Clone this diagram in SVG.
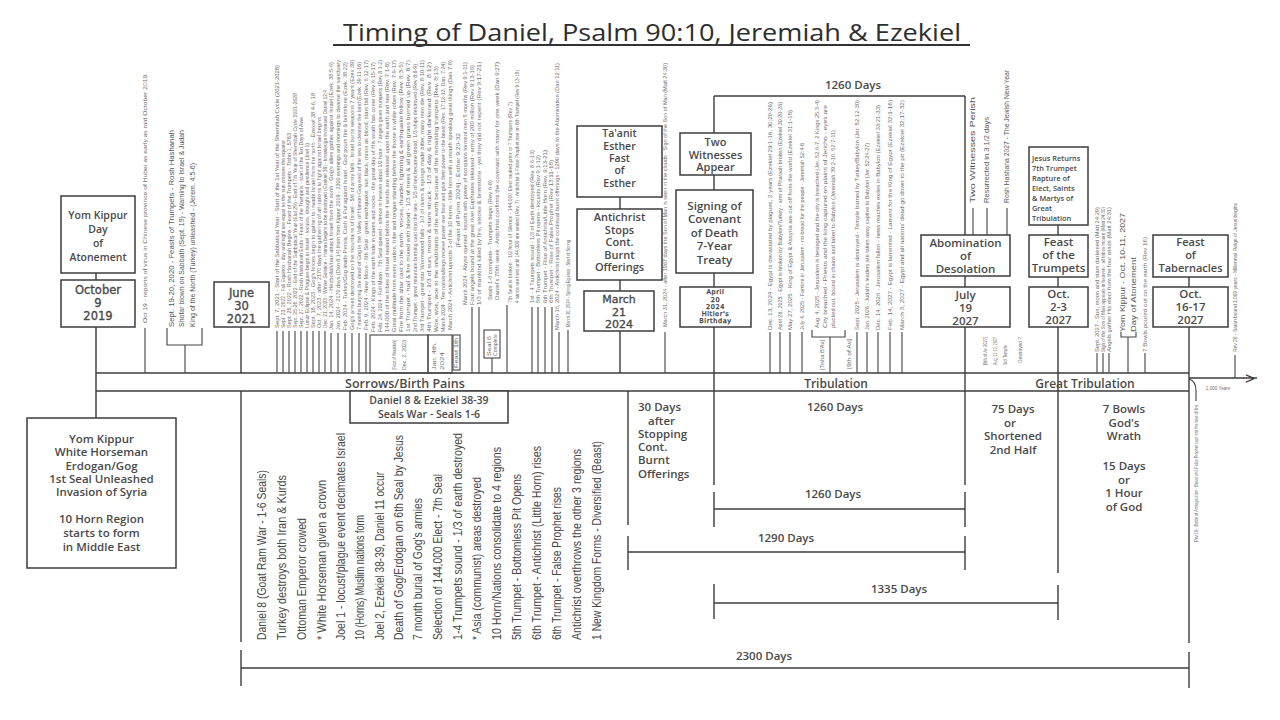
<svg xmlns="http://www.w3.org/2000/svg" width="1280" height="720" viewBox="0 0 1280 720">
<style>
.ln{stroke:#3c3c3c;stroke-width:1.4;fill:none}
.tk{stroke:#444;stroke-width:1.1;fill:none}
.bx{fill:#fff;stroke:#3c3c3c;stroke-width:1.5}
.b{font-family:"Open Sans","Liberation Sans",sans-serif;font-weight:600;fill:#4a4a4a;text-anchor:middle}
.bl{font-family:"Open Sans","Liberation Sans",sans-serif;font-weight:600;fill:#4a4a4a}
.d{font-family:"DejaVu Sans","Liberation Sans",sans-serif;font-weight:normal;fill:#4a4a4a;stroke:#4a4a4a;stroke-width:0.35;text-anchor:middle}
.v{font-family:"Liberation Sans",sans-serif;fill:#484848;font-size:12px}
.s{font-family:"Liberation Sans",sans-serif;fill:#6e6e6e;font-size:4.6px}
.m{font-family:"Liberation Sans",sans-serif;fill:#555;font-size:7px}
</style>
<rect width="1280" height="720" fill="#fff"/>

<g id="title">
<text x="652" y="41" font-family="Open Sans, Liberation Sans, sans-serif" font-size="24" fill="#2e2e2e" text-anchor="middle" textLength="618" lengthAdjust="spacingAndGlyphs">Timing of Daniel, Psalm 90:10, Jeremiah &amp; Ezekiel</text>
<line x1="333" y1="45" x2="970" y2="45" stroke="#333" stroke-width="2"/>
</g>

<g id="connectors">
<line class="ln" x1="96" y1="373" x2="1189" y2="373"/>
<line class="ln" x1="96" y1="391" x2="1189" y2="391"/>
<line class="ln" x1="1189" y1="378" x2="1257" y2="378"/>
<path class="tk" d="M1189,379 Q1196,381 1196,391 V401"/>
<line class="ln" x1="96" y1="273" x2="96" y2="280"/>
<line class="ln" x1="96" y1="327" x2="96" y2="418"/>
<line class="ln" x1="241" y1="327" x2="241" y2="373"/>
<line class="ln" x1="241" y1="391" x2="241" y2="642"/>
<line class="ln" x1="241" y1="650" x2="241" y2="686"/>
<line class="ln" x1="620" y1="197" x2="620" y2="209"/>
<line class="ln" x1="620" y1="280" x2="620" y2="291"/>
<line class="ln" x1="620" y1="331" x2="620" y2="373"/>
<line class="ln" x1="714" y1="96" x2="714" y2="133"/>
<line class="ln" x1="714" y1="175" x2="714" y2="190"/>
<line class="ln" x1="714" y1="273" x2="714" y2="287"/>
<line class="ln" x1="714" y1="327" x2="714" y2="485"/>
<line class="ln" x1="714" y1="96" x2="965" y2="96"/>
<line class="ln" x1="965" y1="96" x2="965" y2="235"/>
<line class="ln" x1="965" y1="276" x2="965" y2="287"/>
<line class="ln" x1="965" y1="327" x2="965" y2="485"/>
<line class="ln" x1="1058" y1="225" x2="1058" y2="235"/>
<line class="ln" x1="1058" y1="277" x2="1058" y2="287"/>
<line class="ln" x1="1058" y1="327" x2="1058" y2="573"/>
<line class="ln" x1="1189" y1="277" x2="1189" y2="287"/>
<line class="ln" x1="1189" y1="327" x2="1189" y2="643"/>
<line class="ln" x1="628" y1="391" x2="628" y2="525"/>
<line class="ln" x1="714" y1="492" x2="714" y2="527"/>
<line class="ln" x1="965" y1="492" x2="965" y2="527"/>
<line class="ln" x1="714" y1="509" x2="965" y2="509"/>
<line class="ln" x1="628" y1="536" x2="628" y2="570"/>
<line class="ln" x1="965" y1="536" x2="965" y2="570"/>
<line class="ln" x1="628" y1="552" x2="965" y2="552"/>
<line class="ln" x1="714" y1="584" x2="714" y2="619"/>
<line class="ln" x1="1058" y1="585" x2="1058" y2="620"/>
<line class="ln" x1="714" y1="603" x2="1058" y2="603"/>
<line class="ln" x1="1189" y1="652" x2="1189" y2="688"/>
<line class="ln" x1="241" y1="668" x2="1189" y2="668"/>
<path class="tk" d="M145,328V373 M167,328V345H202V328 M185,345V373
M277,331V373 M283,331V373 M289,331V373 M295,331V373 M301,331V373 M307,331V373 M313,331V373 M319,331V373 M325,331V373
M331,333V373 M338,333V373 M345,333V373 M352,333V373 M359,333V373 M366,333V373
M472,307V373 M479,307V373 M492,358V373 M507,305V373 M532,307V373 M538,307V373 M545,307V373 M552,307V373 M559,332V373 M568,330V373
M665,332V373
M770,332V373 M780,332V373 M790,332V373 M802,332V373 M812,330V337H845V330 M830,337V373 M857,332V373 M867,332V373 M878,332V373 M890,332V373 M902,332V373
M973,208V235 M987,208V235 M1007,208V235
M1097,353V373 M1103,353V373 M1109,353V373 M1121,332V337H1136V332 M1128,337V373 M1145,353V373
M1235,355V378"/>
</g>

<g id="node-yomkippur-2019">
<rect class="bx" x="61" y="196" width="74" height="77"/>
<text class="b" font-size="10.5"><tspan x="98" y="219">Yom Kippur</tspan><tspan x="98" y="233">Day</tspan><tspan x="98" y="247">of</tspan><tspan x="98" y="261">Atonement</tspan></text>
</g>
<g id="node-oct-2019">
<rect class="bx" x="61" y="280" width="74" height="47"/>
<text class="d" font-size="11.5"><tspan x="98" y="293.5">October</tspan><tspan x="98" y="306.5">9</tspan><tspan x="98" y="319.5">2019</tspan></text>
</g>
<g id="node-june-2021">
<rect class="bx" x="214" y="282" width="55" height="45"/>
<text class="d" font-size="11.5"><tspan x="241.5" y="297">June</tspan><tspan x="241.5" y="310">30</tspan><tspan x="241.5" y="323">2021</tspan></text>
</g>
<g id="node-taanit">
<rect class="bx" x="577" y="126" width="85" height="71"/>
<text class="b" font-size="10.5"><tspan x="619.5" y="137">Ta'anit</tspan><tspan x="619.5" y="149.5">Esther</tspan><tspan x="619.5" y="162">Fast</tspan><tspan x="619.5" y="174">of</tspan><tspan x="619.5" y="187">Esther</tspan></text>
</g>
<g id="node-antichrist-stops">
<rect class="bx" x="577" y="209" width="85" height="71"/>
<text class="b" font-size="11"><tspan x="619.5" y="221">Antichrist</tspan><tspan x="619.5" y="233.5">Stops</tspan><tspan x="619.5" y="246">Cont.</tspan><tspan x="619.5" y="258.5">Burnt</tspan><tspan x="619.5" y="271">Offerings</tspan></text>
</g>
<g id="node-march-2024">
<rect class="bx" x="584" y="291" width="70" height="40"/>
<text class="d" font-size="11"><tspan x="619" y="302.5">March</tspan><tspan x="619" y="315.5">21</tspan><tspan x="619" y="328">2024</tspan></text>
</g>
<g id="node-two-witnesses">
<rect class="bx" x="680" y="133" width="71" height="42"/>
<text class="b" font-size="11"><tspan x="715.5" y="145.5">Two</tspan><tspan x="715.5" y="158.5">Witnesses</tspan><tspan x="715.5" y="171">Appear</tspan></text>
</g>
<g id="node-signing">
<rect class="bx" x="676" y="190" width="77" height="83"/>
<text class="b" font-size="11.5"><tspan x="714.5" y="209.5">Signing of</tspan><tspan x="714.5" y="223">Covenant</tspan><tspan x="714.5" y="236.5">of Death</tspan><tspan x="714.5" y="250">7-Year</tspan><tspan x="714.5" y="263.5">Treaty</tspan></text>
</g>
<g id="node-april-2024">
<rect class="bx" x="680" y="287" width="71" height="40"/>
<text class="d" font-size="6.5" letter-spacing="0.6"><tspan x="715.5" y="294">April</tspan><tspan x="715.5" y="302">20</tspan><tspan x="715.5" y="309">2024</tspan><tspan x="715.5" y="316">Hitler's</tspan><tspan x="715.5" y="323">Birthday</tspan></text>
</g>
<g id="node-abomination">
<rect class="bx" x="921" y="235" width="89" height="41"/>
<text class="b" font-size="11.5"><tspan x="965.5" y="246.5">Abomination</tspan><tspan x="965.5" y="259.5">of</tspan><tspan x="965.5" y="272.5">Desolation</tspan></text>
</g>
<g id="node-july-2027">
<rect class="bx" x="921" y="287" width="89" height="40"/>
<text class="b" font-size="11.5"><tspan x="965.5" y="298.5">July</tspan><tspan x="965.5" y="311.5">19</tspan><tspan x="965.5" y="324.5">2027</tspan></text>
</g>
<g id="node-jesus-returns">
<rect class="bx" x="1029" y="147" width="59" height="78"/>
<text class="bl" font-size="7.4"><tspan x="1032" y="161">Jesus Returns</tspan><tspan x="1032" y="171">7th Trumpet</tspan><tspan x="1032" y="181">Rapture of</tspan><tspan x="1032" y="191">Elect, Saints</tspan><tspan x="1032" y="201">&amp; Martys of</tspan><tspan x="1032" y="211">Great</tspan><tspan x="1032" y="221">Tribulation</tspan></text>
</g>
<g id="node-feast-trumpets">
<rect class="bx" x="1029" y="235" width="59" height="42"/>
<text class="b" font-size="11.5"><tspan x="1058.5" y="246">Feast</tspan><tspan x="1058.5" y="259">of the</tspan><tspan x="1058.5" y="272">Trumpets</tspan></text>
</g>
<g id="node-oct-2-3-2027">
<rect class="bx" x="1029" y="287" width="59" height="40"/>
<text class="b" font-size="11.5"><tspan x="1058.5" y="297.5">Oct.</tspan><tspan x="1058.5" y="310.5">2-3</tspan><tspan x="1058.5" y="323.5">2027</tspan></text>
</g>
<g id="node-tabernacles">
<rect class="bx" x="1153" y="235" width="75" height="42"/>
<text class="b" font-size="11"><tspan x="1190.5" y="246">Feast</tspan><tspan x="1190.5" y="259">of</tspan><tspan x="1190.5" y="272">Tabernacles</tspan></text>
</g>
<g id="node-oct-16-17-2027">
<rect class="bx" x="1153" y="287" width="75" height="40"/>
<text class="b" font-size="11.5"><tspan x="1190.5" y="297.5">Oct.</tspan><tspan x="1190.5" y="310.5">16-17</tspan><tspan x="1190.5" y="323.5">2027</tspan></text>
</g>
<g id="node-white-horseman">
<rect class="bx" x="27" y="418" width="149" height="150"/>
<text class="b" font-size="11.5"><tspan x="101.5" y="443">Yom Kippur</tspan><tspan x="101.5" y="456">White Horseman</tspan><tspan x="101.5" y="470">Erdogan/Gog</tspan><tspan x="101.5" y="483">1st Seal Unleashed</tspan><tspan x="101.5" y="496">Invasion of Syria</tspan><tspan x="101.5" y="522.5">10 Horn Region</tspan><tspan x="101.5" y="537">starts to form</tspan><tspan x="101.5" y="550.5">in Middle East</tspan></text>
</g>
<g id="node-seals-war">
<rect class="bx" x="350" y="391" width="158" height="32"/>
<text class="b" font-size="10.5"><tspan x="429" y="404">Daniel 8 &amp; Ezekiel 38-39</tspan><tspan x="429" y="418">Seals War - Seals 1-6</tspan></text>
</g>
<g id="small-boxes">
<rect class="tk" x="370" y="335" width="58" height="38"/>
<rect class="tk" x="428" y="335" width="24" height="38"/>
<rect class="tk" x="453" y="335" width="7" height="35"/>
<rect class="tk" x="484" y="330" width="16" height="28"/>
<text class="s" transform="translate(395.6,370) rotate(-90)" textLength="30" lengthAdjust="spacingAndGlyphs">[Feast of Hanukkah]</text>
<text class="s" transform="translate(405.6,370) rotate(-90)" textLength="30" lengthAdjust="spacingAndGlyphs">Dec. 2, 2023</text>
<text class="s" transform="translate(435.6,370) rotate(-90)" textLength="28" lengthAdjust="spacingAndGlyphs">Jan. 4th,</text>
<text class="s" transform="translate(443.6,370) rotate(-90)" textLength="18" lengthAdjust="spacingAndGlyphs">2024</text>
<text class="s" transform="translate(458.2,368) rotate(-90)" textLength="30" lengthAdjust="spacingAndGlyphs">Feast 1th</text>
<text class="s" transform="translate(490.6,356) rotate(-90)" textLength="20" lengthAdjust="spacingAndGlyphs">Seal 6</text>
<text class="s" transform="translate(496.6,356) rotate(-90)" textLength="22" lengthAdjust="spacingAndGlyphs">Complete</text>
</g>

<g id="period-labels">
<text class="b" font-size="12.5" x="405" y="387.5">Sorrows/Birth Pains</text>
<text class="b" font-size="12" x="836" y="387.5">Tribulation</text>
<text class="b" font-size="12" x="1085" y="387.5">Great Tribulation</text>
<text class="b" font-size="11.5" x="853" y="88.5">1260 Days</text>
<text class="b" font-size="11.5" x="835" y="410.5">1260 Days</text>
<text class="b" font-size="11.5" x="833" y="497.5">1260 Days</text>
<text class="b" font-size="11.5" x="786" y="541.5">1290 Days</text>
<text class="b" font-size="11.5" x="899" y="592.5">1335 Days</text>
<text class="b" font-size="11.5" x="764" y="659.5">2300 Days</text>
<text class="bl" font-size="11.5"><tspan x="638" y="411">30 Days</tspan><tspan x="648" y="424.5">after</tspan><tspan x="638" y="438">Stopping</tspan><tspan x="638" y="451">Cont.</tspan><tspan x="638" y="464">Burnt</tspan><tspan x="638" y="477.5">Offerings</tspan></text>
<text class="b" font-size="11.5"><tspan x="1013" y="413">75 Days</tspan><tspan x="1010" y="426.5">or</tspan><tspan x="1013" y="440">Shortened</tspan><tspan x="1013" y="453.5">2nd Half</tspan></text>
<text class="b" font-size="11.5"><tspan x="1124" y="413">7 Bowls</tspan><tspan x="1124" y="426.5">God's</tspan><tspan x="1124" y="440">Wrath</tspan><tspan x="1124" y="470">15 Days</tspan><tspan x="1124" y="483.5">or</tspan><tspan x="1124" y="497">1 Hour</tspan><tspan x="1124" y="510.5">of God</tspan></text>
<text x="1250" y="384" font-family="Liberation Sans, sans-serif" font-size="17" fill="#333" text-anchor="middle">&gt;</text>
<text class="s" x="1218" y="390" font-size="4" text-anchor="middle">1,000 Years</text>
</g>

<g id="seal-events">
<text class="v" transform="translate(266.2,640) rotate(-90)" textLength="170" lengthAdjust="spacingAndGlyphs">Daniel 8 (Goat Ram War - 1-6 Seals)</text>
<text class="v" transform="translate(286.2,640) rotate(-90)" textLength="165" lengthAdjust="spacingAndGlyphs">Turkey destroys both Iran &amp; Kurds</text>
<text class="v" transform="translate(306.2,640) rotate(-90)" textLength="122" lengthAdjust="spacingAndGlyphs">Ottoman Emperor crowed</text>
<text class="v" transform="translate(326.2,640) rotate(-90)" textLength="160" lengthAdjust="spacingAndGlyphs">* White Horseman given a crown</text>
<text class="v" transform="translate(345.2,640) rotate(-90)" textLength="207" lengthAdjust="spacingAndGlyphs">Joel 1 - locust/plague event decimates Israel</text>
<text class="v" transform="translate(364.2,640) rotate(-90)" textLength="125" lengthAdjust="spacingAndGlyphs">10 (Horns) Muslim nations form</text>
<text class="v" transform="translate(384.2,640) rotate(-90)" textLength="168" lengthAdjust="spacingAndGlyphs">Joel 2, Ezekiel 38-39, Daniel 11 occur</text>
<text class="v" transform="translate(403.2,640) rotate(-90)" textLength="205" lengthAdjust="spacingAndGlyphs">Death of Gog/Erdogan on 6th Seal by Jesus</text>
<text class="v" transform="translate(422.2,640) rotate(-90)" textLength="142" lengthAdjust="spacingAndGlyphs">7 month burial of Gog's armies</text>
<text class="v" transform="translate(442.2,640) rotate(-90)" textLength="166" lengthAdjust="spacingAndGlyphs">Selection of 144,000 Elect - 7th Seal</text>
<text class="v" transform="translate(462.2,640) rotate(-90)" textLength="207" lengthAdjust="spacingAndGlyphs">1-4 Trumpets sound - 1/3 of earth destroyed</text>
<text class="v" transform="translate(481.2,640) rotate(-90)" textLength="163" lengthAdjust="spacingAndGlyphs">* Asia (communist) areas destroyed</text>
<text class="v" transform="translate(501.2,640) rotate(-90)" textLength="193" lengthAdjust="spacingAndGlyphs">10 Horn/Nations consolidate to 4 regions</text>
<text class="v" transform="translate(521.2,640) rotate(-90)" textLength="166" lengthAdjust="spacingAndGlyphs">5th Trumpet - Bottomless Pit Opens</text>
<text class="v" transform="translate(541.2,640) rotate(-90)" textLength="194" lengthAdjust="spacingAndGlyphs">6th Trumpet - Antichrist (Little Horn) rises</text>
<text class="v" transform="translate(561.2,640) rotate(-90)" textLength="153" lengthAdjust="spacingAndGlyphs">6th Trumpet - False Prophet rises</text>
<text class="v" transform="translate(581.2,640) rotate(-90)" textLength="191" lengthAdjust="spacingAndGlyphs">Antichrist overthrows the other 3 regions</text>
<text class="v" transform="translate(601.2,640) rotate(-90)" textLength="199" lengthAdjust="spacingAndGlyphs">1 New Kingdom Forms - Diversified (Beast)</text>
</g>

<g id="timeline-notes">
<text class="s" font-size="5" transform="translate(146.8,323) rotate(-90)" textLength="250" lengthAdjust="spacingAndGlyphs">Oct 19 - reports of virus in Chinese province of Hubei as early as mid October 2019.</text>
<text class="m" transform="translate(173.5,327) rotate(-90)" textLength="197" lengthAdjust="spacingAndGlyphs">Sept. 19-20, 2020 - Feasts of Trumpets - Rosh Hashanah</text>
<text class="m" transform="translate(183.5,327) rotate(-90)" textLength="197" lengthAdjust="spacingAndGlyphs">Shofar blown on Sabbath (Sept. 19) - Warning to Israel &amp; Judah</text>
<text class="m" transform="translate(194.5,327) rotate(-90)" textLength="164" lengthAdjust="spacingAndGlyphs">King of the North (Turkey) unleashed - (Jerem. 4:5-6)</text>

<text class="s" transform="translate(278.6,328) rotate(-90)" textLength="263" lengthAdjust="spacingAndGlyphs">Sept. 7, 2021 - Start of the Sabbatical Year - Start of the 1st Year of the Shemittah Cycle (2021-2028)</text>
<text class="s" transform="translate(284.6,328) rotate(-90)" textLength="188" lengthAdjust="spacingAndGlyphs">Sept. 23, 2022 - Fall Equinox - day and night are equal as the sun crosses the equator</text>
<text class="s" transform="translate(290.6,328) rotate(-90)" textLength="195" lengthAdjust="spacingAndGlyphs">Sept. 25, 2022 - Rosh Hashanah Begins - Feast of the Trumpets - Tishri 1, 5783</text>
<text class="s" transform="translate(296.6,328) rotate(-90)" textLength="235" lengthAdjust="spacingAndGlyphs">Sept. 25-26, 2022 - End of the Sabbatical Year (Elul 29) - End of 7th Year of Shemittah Cycle 2021-2028</text>
<text class="s" transform="translate(302.6,328) rotate(-90)" textLength="211" lengthAdjust="spacingAndGlyphs">Sept. 27, 2022 - Rosh Hashanah Ends - Feast of the Trumpets - start of the Ten Days of Awe</text>
<text class="s" transform="translate(308.6,328) rotate(-90)" textLength="185" lengthAdjust="spacingAndGlyphs">Lunar Eclipse &amp; Plagues begin in Israel - locusts, drought and pestilence (Joel 1)</text>
<text class="s" transform="translate(314.6,328) rotate(-90)" textLength="235" lengthAdjust="spacingAndGlyphs">Sept. 18, 2023 - Gog's forces begin to gather to invade Israel from the north - Ezekiel 38:4-6, 18</text>
<text class="s" transform="translate(320.6,328) rotate(-90)" textLength="211" lengthAdjust="spacingAndGlyphs">Oct. 7, 2023 - after 2170 days the gathering of all nations to fight against Israel begins</text>
<text class="s" transform="translate(326.6,328) rotate(-90)" textLength="238" lengthAdjust="spacingAndGlyphs">Dec. 21, 2023 - Winter Solstice - Hamas begins to be destroyed (Ezekiel 38) - knowledge increased Daniel 12:4</text>

<text class="s" transform="translate(332.6,330) rotate(-90)" textLength="268" lengthAdjust="spacingAndGlyphs">Jan. 14, 2024 - Hezbollah/Iran attack Israel from the north - Gog's allies gather against Israel (Ezek. 38:5-6)</text>
<text class="s" transform="translate(339.6,330) rotate(-90)" textLength="270" lengthAdjust="spacingAndGlyphs">Jan. 2024 - 2170 days (Dan 8:14) from Yom Kippur 2019 - 2300 evenings and mornings to cleanse the sanctuary</text>
<text class="s" transform="translate(346.6,330) rotate(-90)" textLength="268" lengthAdjust="spacingAndGlyphs">Feb. 2024 - Turkey/Gog leads Persia, Cush &amp; Put against Israel - God pours fire &amp; brimstone (Ezek. 38:22)</text>
<text class="s" transform="translate(353.6,330) rotate(-90)" textLength="270" lengthAdjust="spacingAndGlyphs">Gog's armies destroyed on the mountains of Israel - 5/6 of army falls - Israel burns weapons 7 years (Ezek 39)</text>
<text class="s" transform="translate(360.6,330) rotate(-90)" textLength="268" lengthAdjust="spacingAndGlyphs">7 months burying the dead of Gog in the Valley of Hamon-Gog east of the sea to cleanse the land (Ezek. 39:11-16)</text>
<text class="s" transform="translate(367.6,330) rotate(-90)" textLength="270" lengthAdjust="spacingAndGlyphs">Feb. 9, 2024 - New Moon - 6th Seal - great earthquake, sun black, moon as blood, stars fall (Rev. 6:12-17)</text>
<text class="s" transform="translate(374.6,332) rotate(-90)" textLength="270" lengthAdjust="spacingAndGlyphs">Feb. 2024 - Kings of the earth hide in caves and rocks - the great day of His wrath has come (Rev 6:15-17)</text>
<text class="s" transform="translate(381.6,332) rotate(-90)" textLength="272" lengthAdjust="spacingAndGlyphs">Feb. 24, 2024 - Full Moon - 7th Seal opened - silence in heaven about 1/2 hour - 7 angels given trumpets (Rev 8:1-2)</text>
<text class="s" transform="translate(388.6,332) rotate(-90)" textLength="270" lengthAdjust="spacingAndGlyphs">144,000 of the tribes of Israel sealed before the 4 winds are released upon the earth and sea (Rev. 7:1-8)</text>
<text class="s" transform="translate(395.6,332) rotate(-90)" textLength="272" lengthAdjust="spacingAndGlyphs">Great multitude from every nation, tribe and tongue standing before the throne in white robes (Rev. 7:9-17)</text>
<text class="s" transform="translate(402.6,332) rotate(-90)" textLength="270" lengthAdjust="spacingAndGlyphs">Fire from the altar cast to the earth - voices, thunder, lightning &amp; earthquake follow (Rev. 8:3-5)</text>
<text class="s" transform="translate(409.6,332) rotate(-90)" textLength="272" lengthAdjust="spacingAndGlyphs">1st Trumpet - hail &amp; fire mixed with blood - 1/3 of trees &amp; all green grass burned up (Rev. 8:7)</text>
<text class="s" transform="translate(416.6,332) rotate(-90)" textLength="268" lengthAdjust="spacingAndGlyphs">2nd Trumpet - great mountain burning cast into the sea - 1/3 of sea became blood, 1/3 ships destroyed (Rev 8:8-9)</text>
<text class="s" transform="translate(423.6,332) rotate(-90)" textLength="272" lengthAdjust="spacingAndGlyphs">3rd Trumpet - great star Wormwood falls - 1/3 of rivers &amp; springs made bitter, many men die (Rev. 8:10-11)</text>
<text class="s" transform="translate(430.6,332) rotate(-90)" textLength="270" lengthAdjust="spacingAndGlyphs">4th Trumpet - 1/3 of sun, moon &amp; stars struck - 1/3 of day &amp; night darkened (Rev. 8:12)</text>
<text class="s" transform="translate(437.6,332) rotate(-90)" textLength="266" lengthAdjust="spacingAndGlyphs">Woe, woe, woe to the inhabitants of the earth because of the remaining trumpets (Rev. 8:13)</text>
<text class="s" transform="translate(444.6,332) rotate(-90)" textLength="270" lengthAdjust="spacingAndGlyphs">March 2024 - Ten nations/kings receive power one hour and give their power to the beast (Rev. 17:12-13, Dan. 7:24)</text>
<text class="s" transform="translate(451.6,330) rotate(-90)" textLength="270" lengthAdjust="spacingAndGlyphs">March 2024 - Antichrist uproots 3 of the 10 horns - little horn with a mouth speaking great things (Dan 7:8)</text>

<text class="s" transform="translate(459.6,247) rotate(-90)" textLength="114" lengthAdjust="spacingAndGlyphs">[Feast of Purim 2024] - Esther 9:20-32</text>
<text class="s" transform="translate(466.6,305) rotate(-90)" textLength="243" lengthAdjust="spacingAndGlyphs">March 2024 - Abyss opened - locusts with power of scorpions torment men 5 months (Rev 9:1-11)</text>
<text class="s" transform="translate(473.6,305) rotate(-90)" textLength="240" lengthAdjust="spacingAndGlyphs">Four angels bound at the great river Euphrates released - army of 200 million (Rev 9:13-16)</text>
<text class="s" transform="translate(480.6,305) rotate(-90)" textLength="243" lengthAdjust="spacingAndGlyphs">1/3 of mankind killed by fire, smoke &amp; brimstone - yet they did not repent (Rev 9:17-21)</text>
<text class="s" transform="translate(491.6,300) rotate(-90)" textLength="120" lengthAdjust="spacingAndGlyphs">Seals 1-6 complete - Trumpets begin (Rev 6-8)</text>
<text class="s" transform="translate(498.6,300) rotate(-90)" textLength="238" lengthAdjust="spacingAndGlyphs">Daniel's 70th week - Antichrist confirms the covenant with many for one week (Dan 9:27)</text>
<text class="s" transform="translate(511.6,303) rotate(-90)" textLength="201" lengthAdjust="spacingAndGlyphs">7th Seal is broken - 1/2 hour of Silence - 144,000 Elect sealed prior to 7 Trumpets (Rev 7)</text>
<text class="s" transform="translate(518.6,303) rotate(-90)" textLength="233" lengthAdjust="spacingAndGlyphs">4 winds are held until 144,000 are sealed (Rev. 7) - Antichrist &amp; False Prophet rise on 6th Trumpet (Rev 9:13-18)</text>
<text class="s" transform="translate(533.6,303) rotate(-90)" textLength="153" lengthAdjust="spacingAndGlyphs">1st - 4 Trumpets sound - 1/3 of Earth destroyed (Rev. 8:6-13)</text>
<text class="s" transform="translate(539.6,303) rotate(-90)" textLength="148" lengthAdjust="spacingAndGlyphs">5th Trumpet - Bottomless Pit opens - locusts (Rev 9:1-12)</text>
<text class="s" transform="translate(546.6,303) rotate(-90)" textLength="153" lengthAdjust="spacingAndGlyphs">6th Trumpet - Rise of Antichrist/Little Horn (Rev. 9:13-21)</text>
<text class="s" transform="translate(552.6,303) rotate(-90)" textLength="143" lengthAdjust="spacingAndGlyphs">6th Trumpet - Rise of False Prophet (Rev 13:11-18)</text>
<text class="s" transform="translate(558.6,330) rotate(-90)" textLength="267" lengthAdjust="spacingAndGlyphs">March 16, 2024 - Antichrist stops the continual burnt offerings - 1290 days to the Abomination (Dan 12:11)</text>
<text class="s" transform="translate(569.6,327) rotate(-90)" textLength="87" lengthAdjust="spacingAndGlyphs">March 20, 2024 - Spring Equinox - Start of Spring</text>

<text class="s" transform="translate(666.6,327) rotate(-90)" textLength="264" lengthAdjust="spacingAndGlyphs">March 31, 2024 - after 1967 days the Son of Man is seen in the clouds - Sign of the Son of Man (Matt 24:30)</text>

<text class="s" transform="translate(771.6,330) rotate(-90)" textLength="228" lengthAdjust="spacingAndGlyphs">Dec. 13, 2024 - Egypt is devastated by plagues, 2 years (Ezekiel 29:1-16, 30:20-26)</text>
<text class="s" transform="translate(781.6,330) rotate(-90)" textLength="228" lengthAdjust="spacingAndGlyphs">April 26, 2025 - Egypt is broken by Babylon/Turkey - arm of Pharaoh broken (Ezekiel 30:20-26)</text>
<text class="s" transform="translate(791.6,330) rotate(-90)" textLength="220" lengthAdjust="spacingAndGlyphs">May 27, 2025 - King of Egypt &amp; Assyria are cut off from the world (Ezekiel 31:1-18)</text>
<text class="s" transform="translate(803.6,330) rotate(-90)" textLength="187" lengthAdjust="spacingAndGlyphs">July 4, 2025 - Famine in Jerusalem - no bread for the people - Jeremiah 52:4-6</text>
<text class="s" transform="translate(818.6,328) rotate(-90)" textLength="228" lengthAdjust="spacingAndGlyphs">Aug. 4, 2025 - Jerusalem is besieged and the city is breached (Jer. 52:6-7, 2 Kings 25:3-4)</text>
<text class="s" transform="translate(826.6,328) rotate(-90)" textLength="223" lengthAdjust="spacingAndGlyphs">City breached - Priests and the king captured on plains of Jericho - eyes are</text>
<text class="s" transform="translate(834.6,328) rotate(-90)" textLength="198" lengthAdjust="spacingAndGlyphs">plucked out, bound in chains and taken to Babylon (Jeremiah 39:2-10, 52:7-11)</text>
<text class="s" transform="translate(823.6,370) rotate(-90)" textLength="30" lengthAdjust="spacingAndGlyphs">[Tisha B'Av]</text>
<text class="s" transform="translate(850.6,369) rotate(-90)" textLength="30" lengthAdjust="spacingAndGlyphs">[9th of Av]</text>
<text class="s" transform="translate(858.6,330) rotate(-90)" textLength="230" lengthAdjust="spacingAndGlyphs">Sept. 2025 - Jerusalem is destroyed - Temple burned by Turkey/Babylon (Jer. 52:12-30)</text>
<text class="s" transform="translate(868.6,330) rotate(-90)" textLength="187" lengthAdjust="spacingAndGlyphs">Jan. 2026 - Judah's leaders are taken away captive to Babylon (Jer. 52:24-27)</text>
<text class="s" transform="translate(879.6,330) rotate(-90)" textLength="225" lengthAdjust="spacingAndGlyphs">Dec. 14, 2026 - Jerusalem fallen - news reaches exiles in Babylon (Ezekiel 33:21-33)</text>
<text class="s" transform="translate(891.6,330) rotate(-90)" textLength="230" lengthAdjust="spacingAndGlyphs">Feb. 14, 2027 - Egypt is lamented - Lament for the King of Egypt (Ezekiel 32:1-16)</text>
<text class="s" transform="translate(903.6,330) rotate(-90)" textLength="230" lengthAdjust="spacingAndGlyphs">March 3, 2027 - Egypt and all nations' dead go down to the pit (Ezekiel 32:17-32)</text>

<text class="m" font-size="6.5" transform="translate(975.3,203) rotate(-90)" textLength="106" lengthAdjust="spacingAndGlyphs">Two Witnesses Perish</text>
<text class="m" font-size="6.5" transform="translate(989.3,203) rotate(-90)" textLength="86" lengthAdjust="spacingAndGlyphs">Resurrected in 3 1/2 days</text>
<text class="m" font-size="6.5" transform="translate(1009.3,203) rotate(-90)" textLength="133" lengthAdjust="spacingAndGlyphs">Rosh Hashana 2027 - The Jewish New Year</text>

<text class="s" transform="translate(986.6,365) rotate(-90)" textLength="28" lengthAdjust="spacingAndGlyphs">[9th of Av 2027]</text>
<text class="s" transform="translate(996.6,365) rotate(-90)" textLength="28" lengthAdjust="spacingAndGlyphs">Aug. 11-12, 2027</text>
<text class="s" transform="translate(1006.6,365) rotate(-90)" textLength="20" lengthAdjust="spacingAndGlyphs">3rd Temple</text>
<text class="s" transform="translate(1021.6,363) rotate(-90)" textLength="26" lengthAdjust="spacingAndGlyphs">Destroyed ?</text>

<text class="s" transform="translate(1098.6,352) rotate(-90)" textLength="145" lengthAdjust="spacingAndGlyphs">Sept. 2027 - Sun, moon and stars darkened (Matt 24:29)</text>
<text class="s" transform="translate(1104.6,352) rotate(-90)" textLength="145" lengthAdjust="spacingAndGlyphs">Sign of the Son of Man appears in heaven - all tribes mourn (Matt 24:30)</text>
<text class="s" transform="translate(1110.6,352) rotate(-90)" textLength="145" lengthAdjust="spacingAndGlyphs">Angels gather His elect from the four winds (Matt 24:31)</text>
<text class="m" font-size="8" transform="translate(1124.8,332) rotate(-90)" textLength="119" lengthAdjust="spacingAndGlyphs">Yom Kippur - Oct. 10-11, 2027</text>
<text class="m" font-size="8" transform="translate(1135.8,332) rotate(-90)" textLength="75" lengthAdjust="spacingAndGlyphs">Day of Atonement</text>
<text class="s" transform="translate(1146.6,352) rotate(-90)" textLength="115" lengthAdjust="spacingAndGlyphs">7 Bowls poured out on the earth (Rev 16)</text>

<text class="s" transform="translate(1236.6,352) rotate(-90)" textLength="149" lengthAdjust="spacingAndGlyphs">Rev 20 - Satan bound 1,000 years - Millennial Reign of Jesus begins</text>
<text class="s" transform="translate(1197.6,542) rotate(-90)" textLength="137" lengthAdjust="spacingAndGlyphs">Rev 19 - Battle of Armageddon - Beast and False Prophet cast into the lake of fire</text>
</g>
</svg>
